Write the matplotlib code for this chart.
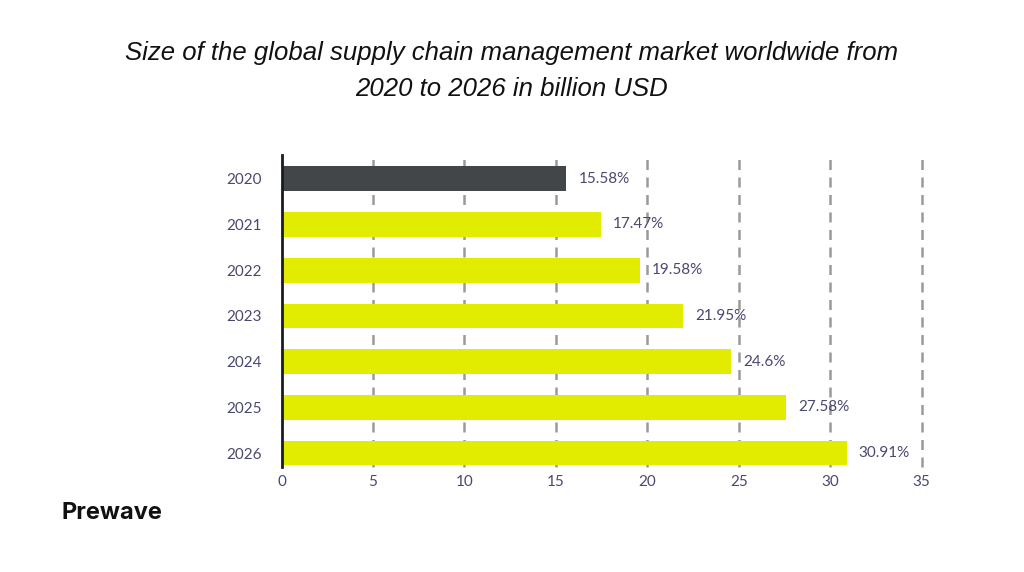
import matplotlib
matplotlib.use("Agg")
import matplotlib.pyplot as plt

years = ["2020", "2021", "2022", "2023", "2024", "2025", "2026"]
values = [15.58, 17.47, 19.58, 21.95, 24.6, 27.58, 30.91]
labels = ["15.58%", "17.47%", "19.58%", "21.95%", "24.6%", "27.58%", "30.91%"]
xticks = [0, 5, 10, 15, 20, 25, 30, 35]

DARK = "#424648"
YELLOW = "#e1ec00"
TXT = "#4a4870"

fig = plt.figure(figsize=(10.24, 5.72), dpi=100)
ax = fig.add_axes([0.275, 0.184, 0.625, 0.545])

colors = [DARK] + [YELLOW] * (len(years) - 1)
ypos = list(range(len(years)))
ax.barh(ypos, values, height=0.54, color=colors, zorder=3)

for y, v, lab in zip(ypos, values, labels):
    ax.text(v + 0.65, y, lab, va="center", ha="left", fontsize=11, color=TXT,
            family="Lato", zorder=4)

ax.set_xlim(0, 35)
ax.set_ylim(6.3, -0.52)
ax.set_yticks(ypos)
ax.set_yticklabels(years)
ax.set_xticks(xticks)
ax.tick_params(axis="both", length=0, colors=TXT, labelsize=11)
ax.tick_params(axis="y", pad=14)
ax.tick_params(axis="x", pad=6)
for lab in ax.get_xticklabels() + ax.get_yticklabels():
    lab.set_family("Lato")

for x in xticks[1:]:
    ax.axvline(x, color="#9a9a9a", linestyle=(0, (4, 3)), linewidth=1.8,
               zorder=1, clip_on=False)

for s in ["top", "right", "bottom"]:
    ax.spines[s].set_visible(False)
ax.spines["left"].set_color("#1b1b24")
ax.spines["left"].set_linewidth(2)
ax.spines["left"].set_zorder(5)

fig.text(0.5, 0.907, "Size of the global supply chain management market worldwide from",
         ha="center", va="center", fontsize=18.5, style="italic", family="Liberation Sans", color="#111111")
fig.text(0.5, 0.845, "2020 to 2026 in billion USD",
         ha="center", va="center", fontsize=18.5, style="italic", family="Liberation Sans", color="#111111")

fig.text(0.06, 0.103, "Prewave", ha="left", va="center", fontsize=17, weight="bold",
         family="Inter", color="#111111")

fig.savefig("out.png", dpi=100, facecolor="white")
